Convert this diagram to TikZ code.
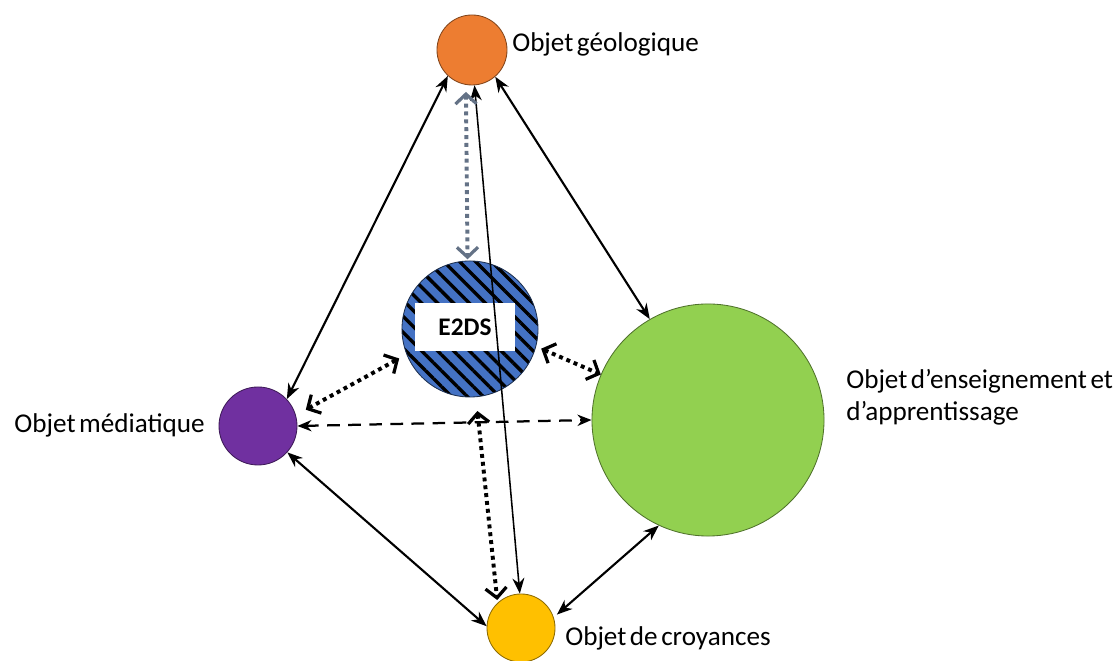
\documentclass[tikz,border=0pt]{standalone}
\usepackage{fontspec}
\setmainfont{Carlito}
\usepackage{tikz}
\usetikzlibrary{arrows.meta, positioning, patterns.meta}
\definecolor{geoorange}{RGB}{237, 125, 49}
\definecolor{mediapurple}{RGB}{112, 48, 160}
\definecolor{ensgreen}{RGB}{146, 208, 80}
\definecolor{croyyellow}{RGB}{255, 192, 0}
\definecolor{e2dsblue}{RGB}{68, 114, 196}
\definecolor{linkgrey}{RGB}{100, 114, 134}
\newcommand{\lblfont}{\fontsize{19.3}{23}\selectfont\spaceskip=0.13em\relax}

\tikzset{
    objet/.style={circle, draw=#1!55!black, fill=#1, inner sep=0pt, line width=0.6pt},
    lbl/.style={font=\lblfont, inner sep=0pt, align=left},
    solidlink/.style={{Stealth[length=11pt, width=8.5pt]}-{Stealth[length=11pt, width=8.5pt]}, line width=1.5pt},
    dotlink/.style={{Straight Barb[length=7pt, width=15pt, line width=2.3pt]}-{Straight Barb[length=7pt, width=15pt, line width=2.3pt]}, line width=2.8pt, dash pattern=on 2.8pt off 2.8pt},
    dashlink/.style={{Stealth[length=10pt, width=8pt]}-{Stealth[length=10pt, width=8pt]}, line width=1.6pt, dash pattern=on 9pt off 6pt}
}

\begin{document}
\begin{tikzpicture}[x=0.025cm, y=0.025cm]
    \useasboundingbox (0,0) rectangle (1120,661);

    % The five objects
    \node[objet=geoorange, minimum size=1.75cm] (geo) at (472, 611) {};
    \node[objet=mediapurple, minimum size=1.95cm] (media) at (258, 235) {};
    \node[objet=ensgreen, minimum size=5.8cm] (ens) at (708, 241) {};
    \node[objet=croyyellow, minimum size=1.7cm] (croy) at (521, 33) {};

    % E2DS in the centre, hatched
    \node[circle, minimum size=3.4cm, inner sep=0pt, draw=e2dsblue!40!black, line width=0.6pt,
          preaction={fill=e2dsblue}, pattern={Lines[angle=-45, distance=8pt, line width=2.4pt]}, pattern color=black] (e2ds) at (470, 332) {};
    \node[fill=white, minimum width=2.5cm, minimum height=1.22cm, font=\fontsize{18}{20}\selectfont\bfseries] (e2dslbl) at (465, 334) {E2DS};

    % Labels
    \node[lbl, anchor=west] (geotxt) at (512, 617) {Objet géologique};
    \node[lbl, anchor=east] (mediatxt) at (205, 236) {Objet médiatique};
    \node[lbl, anchor=west] (enstxt) at (846, 264) {Objet d’enseignement et\\d’apprentissage};
    \node[lbl, anchor=west] (croytxt) at (565, 23) {Objet de croyances};

    % Solid links
    \draw[solidlink] (media.43) -- (geo.-133);
    \draw[solidlink] (geo.-49) -- (ens.120);
    \draw[solidlink, line width=1.1pt] (geo.-86) -- (croy.92);
    \draw[solidlink] (media.-42) -- (croy.177);
    \draw[solidlink, shorten >=3pt] (ens.-115) -- (croy.18);

    % Dotted links with E2DS
    \draw[dotlink, linkgrey, shorten <=5pt] (geo.-100) -- (e2ds.92);
    \draw[dotlink, shorten <=8pt, shorten >=5pt] (media.16) -- (e2ds.202);
    \draw[dotlink, shorten <=3pt] (e2ds.-15) -- (ens.157);
    \draw[dotlink, shorten <=9pt, shorten >=2pt] (e2ds.-85) -- (croy.133);

    % Dashed link
    \draw[dashlink] (media.0) -- (ens.180);
\end{tikzpicture}
\end{document}
